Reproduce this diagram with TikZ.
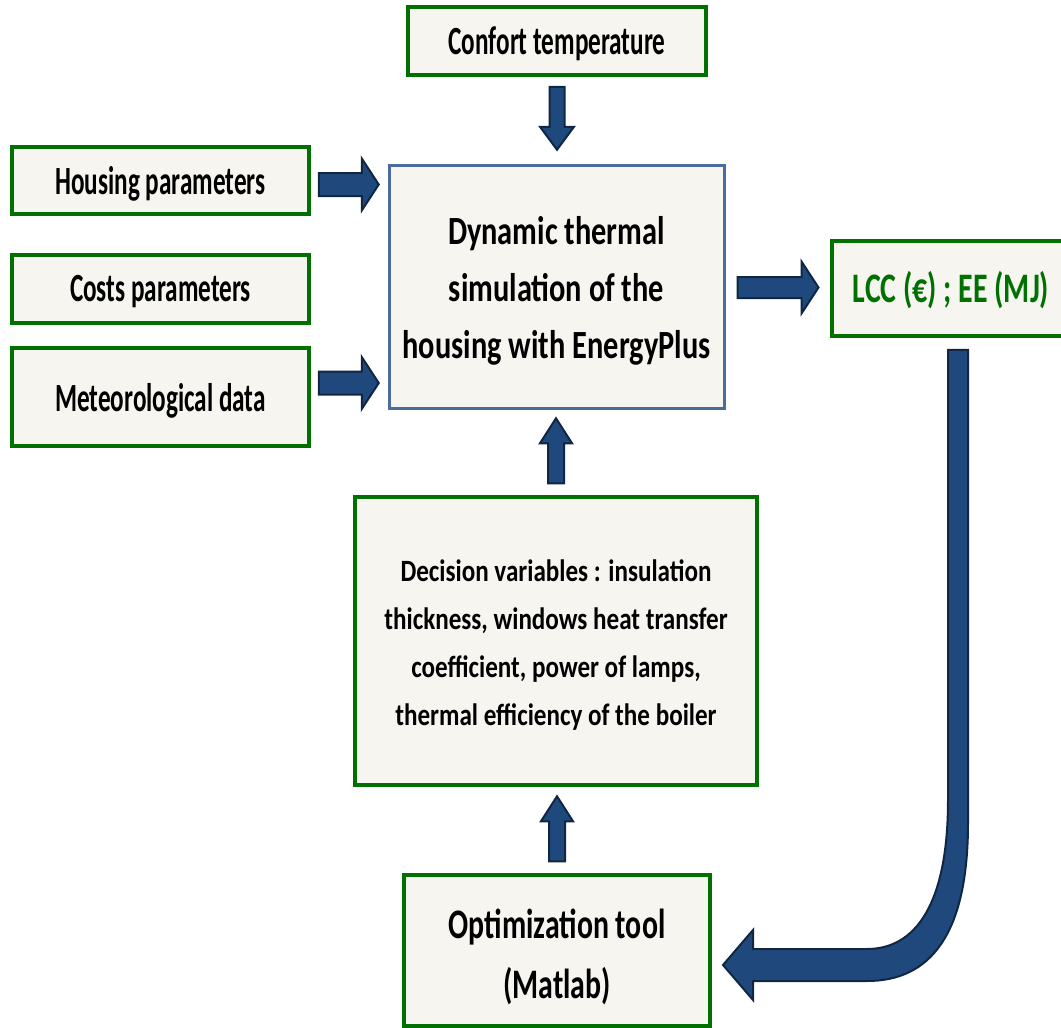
\documentclass[tikz,border=0pt]{standalone}
\usepackage{fontspec}
\setmainfont{Carlito}
\newfontfamily\fsA[FakeStretch=0.63]{Carlito}
\newfontfamily\fsB[FakeStretch=0.76]{Carlito}
\newfontfamily\fsC[FakeStretch=0.81]{Carlito}
\newfontfamily\fsD[FakeStretch=0.71]{Carlito}
\usetikzlibrary{calc}
\definecolor{boxgreen}{RGB}{0,112,0}
\definecolor{boxfill}{RGB}{246,245,240}
\definecolor{simblue}{RGB}{74,108,158}
\definecolor{arrowfill}{RGB}{31,73,125}
\definecolor{arrowline}{RGB}{16,38,66}
\begin{document}
\begin{tikzpicture}[x=1pt,y=-1pt,
  box/.style={draw=boxgreen, line width=3.5pt, fill=boxfill, inner sep=0pt},
  boxtext/.style={inner sep=0pt, align=center, yshift=-#1},
  smalltxt/.style={font=\fsA\bfseries\fontsize{40}{46}\selectfont},
  arrowsty/.style={fill=arrowfill, draw=arrowline, line width=2pt, line join=miter},
  pics/barr/.style n args={4}{code={%
    \filldraw[arrowsty] (0,-#2) -- ({#1-#4},-#2) -- ({#1-#4},-#3) -- (#1,0)
      -- ({#1-#4},#3) -- ({#1-#4},#2) -- (0,#2) -- cycle;}}]
\useasboundingbox (0,0) rectangle (1061,1028);
\fill[white] (0,0) rectangle (1061,1028);
\clip (0,0) rectangle (1061,1028);

% boxes
\node[box, minimum width=298pt, minimum height=68pt,
  label={[boxtext=2.5pt, smalltxt]center:Confort temperature}] (conf) at (557,41) {};
\node[box, minimum width=297pt, minimum height=67pt,
  label={[boxtext=3pt, smalltxt]center:Housing parameters}] (hous) at (160.5,180.5) {};
\node[box, minimum width=297pt, minimum height=68pt,
  label={[boxtext=3pt, smalltxt]center:Costs parameters}] (cost) at (160.5,289) {};
\node[box, minimum width=297pt, minimum height=98pt,
  label={[boxtext=3.5pt, smalltxt]center:Meteorological data}] (meteo) at (160.5,397) {};
\node[box, draw=simblue, line width=3pt, minimum width=335pt, minimum height=243pt,
  label={[boxtext=4pt, font=\fsB\bfseries\fontsize{40}{57}\selectfont]center:{Dynamic thermal\\simulation of the\\housing with EnergyPlus}}]
  (sim) at (556.5,286.5) {};
\node[box, minimum width=238pt, minimum height=95pt,
  label={[boxtext=1.5pt, text=boxgreen, font=\fsD\bfseries\fontsize{42}{46}\selectfont]center:{LCC (€) ; EE (MJ)}}]
  (lcc) at (951,288.5) {};
\node[box, minimum width=402pt, minimum height=288pt,
  label={[boxtext=4.5pt, font=\fsC\bfseries\fontsize{31}{48}\selectfont]center:{Decision variables : insulation\\thickness, windows heat transfer\\coefficient, power of lamps,\\thermal efficiency of the boiler}}]
  (dec) at (556,641) {};
\node[box, minimum width=306pt, minimum height=151pt,
  label={[boxtext=6.5pt, font=\fsD\bfseries\fontsize{42}{60}\selectfont]center:{Optimization tool\\(Matlab)}}]
  (opt) at (557,950.5) {};

% straight block arrows
\pic[rotate=-90] at ($(conf.south)+(0,10)$) {barr={63}{7.5}{17}{23}};
\pic at ($(hous.east)+(8,4)$) {barr={60}{11.5}{26}{17}};
\pic at ($(meteo.east)+(8,-14)$) {barr={60}{11.5}{26}{17}};
\pic at ($(sim.east)+(12,1)$) {barr={81}{10.5}{26}{17}};
\pic[rotate=90] at ($(dec.north)+(0,-12)$) {barr={65}{8}{16}{25}};
\pic[rotate=90] at ($(opt.north)+(0,-12)$) {barr={65}{8}{16}{25}};

% curved block arrow from LCC to optimization tool
\coordinate (cs) at ($(lcc.south)+(7,12)$);
\filldraw[arrowsty] (cs) ++(-10,0) -- ++(20,0) -- (968,823)
  .. controls (968,935) and (930,981) .. (867,981)
  -- (753,981) -- (753,1000) -- (723,965) -- (753,930) -- (753,949) -- (867,949)
  .. controls (915,949) and (948,905) .. (948,800) -- cycle;
\end{tikzpicture}
\end{document}
